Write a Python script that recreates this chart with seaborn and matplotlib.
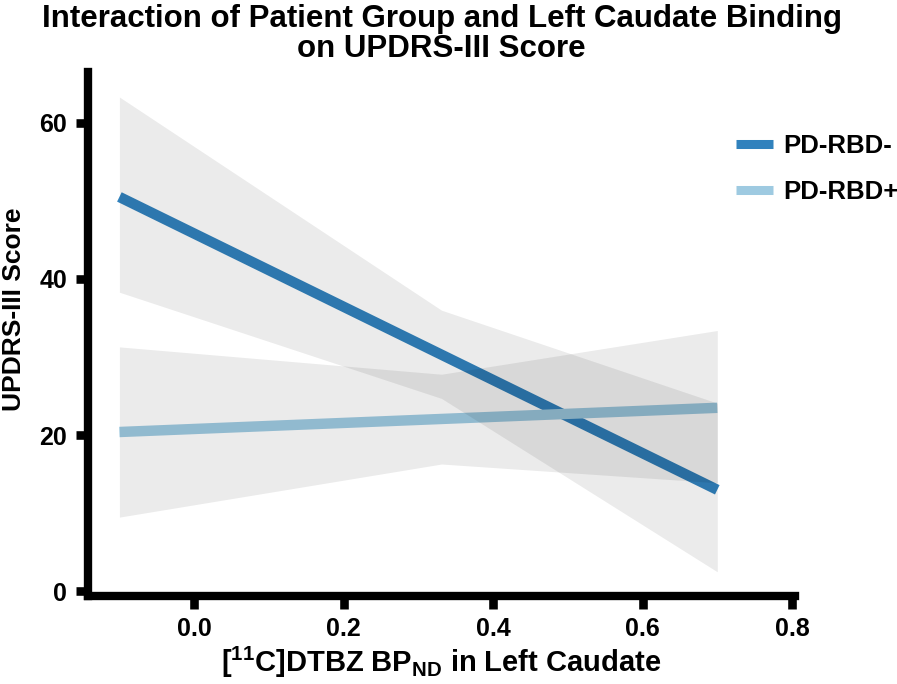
#!/usr/bin/env python3
# Interaction plot: UPDRS-III vs left caudate DTBZ binding, fitted lines + CI bands per group.

import numpy as np
import pandas as pd
import seaborn as sns
import matplotlib.pyplot as plt

# fitted lines (endpoints of the regression fit)
FIT_X   = [-0.1, 0.7]
NEG_FIT = [50.5, 13.0]   # PD-RBD-
POS_FIT = [20.4, 23.5]   # PD-RBD+

# confidence bands (read at the band vertices)
BAND_X = [-0.1, 0.331, 0.7]
NEG_LO = [38.3, 24.7, 2.5]
NEG_HI = [63.3, 36.0, 24.1]
POS_LO = [9.5, 16.3, 13.9]
POS_HI = [31.3, 27.8, 33.4]

GROUPS  = ["PD-RBD-", "PD-RBD+"]
PALETTE = {"PD-RBD-": "#3182bd", "PD-RBD+": "#9ecae1"}

X_TICKS = [0.0, 0.2, 0.4, 0.6, 0.8]
Y_TICKS = [0, 20, 40, 60]

def main():
    sns.set_theme(style="ticks")
    plt.rcParams["font.family"] = ["Liberation Sans", "DejaVu Sans"]
    plt.rcParams["font.weight"] = "bold"
    plt.rcParams["text.color"] = "black"
    plt.rcParams["axes.labelcolor"] = "black"
    plt.rcParams["xtick.color"] = "black"
    plt.rcParams["ytick.color"] = "black"
    plt.rcParams["mathtext.fontset"] = "custom"
    plt.rcParams["mathtext.rm"] = "Liberation Sans:bold"
    plt.rcParams["mathtext.bf"] = "Liberation Sans:bold"

    fits = pd.DataFrame({
        "x": FIT_X * 2,
        "y": NEG_FIT + POS_FIT,
        "group": [GROUPS[0]] * 2 + [GROUPS[1]] * 2,
    })

    fig = plt.figure(figsize=(8.97, 6.84), dpi=100)
    ax = fig.add_axes([88 / 897, 1 - 596 / 684, (795 - 88) / 897, (596 - 72) / 684])

    sns.lineplot(data=fits, x="x", y="y", hue="group", hue_order=GROUPS,
                 palette=PALETTE, linewidth=7.5, ax=ax, zorder=2,
                 solid_capstyle="butt", legend=True)

    # bands drawn over the lines, as in the original
    for lo, hi in [(NEG_LO, NEG_HI), (POS_LO, POS_HI)]:
        ax.fill_between(BAND_X, lo, hi, color="black", alpha=0.08,
                        linewidth=0, zorder=3)

    ax.set_xlim(-0.142, 0.804)
    ax.set_ylim(-0.6, 66.5)
    ax.set_xticks(X_TICKS)
    ax.set_xticklabels([f"{v:.1f}" for v in X_TICKS])
    ax.set_yticks(Y_TICKS)

    for side in ("top", "right"):
        ax.spines[side].set_visible(False)
    for side in ("left", "bottom"):
        ax.spines[side].set_linewidth(6)
        ax.spines[side].set_color("black")
    ax.tick_params(axis="both", width=6.2, length=9, pad=6,
                   labelsize=18, color="black", labelcolor="black")
    for lab in ax.get_xticklabels() + ax.get_yticklabels():
        lab.set_fontweight("bold")

    ax.set_xlabel(r"[$^{11}$C]DTBZ BP$_{\mathrm{ND}}$ in Left Caudate",
                  fontsize=21, fontweight="bold", labelpad=3)
    ax.set_ylabel("UPDRS-III Score", fontsize=19, fontweight="bold")
    ax.yaxis.set_label_coords(-0.088, 0.548)
    ax.set_title("Interaction of Patient Group and Left Caudate Binding\non UPDRS-III Score",
                 fontsize=22.5, fontweight="bold", pad=11, linespacing=1.0)

    h, l = ax.get_legend_handles_labels()
    leg = ax.legend(h, l, title=None, frameon=False, loc="upper left",
                    bbox_to_anchor=(736 / 897, 1 - 134 / 684),
                    bbox_transform=fig.transFigure,
                    borderpad=0, borderaxespad=0, fontsize=18.5,
                    handlelength=1.44, handletextpad=0.4, labelspacing=0.85)
    for line in leg.get_lines():
        line.set_linewidth(6.5)
        line.set_solid_capstyle("butt")
    for t in leg.get_texts():
        t.set_fontweight("bold")

    fig.savefig("out.png", dpi=100)

if __name__ == "__main__":
    main()
